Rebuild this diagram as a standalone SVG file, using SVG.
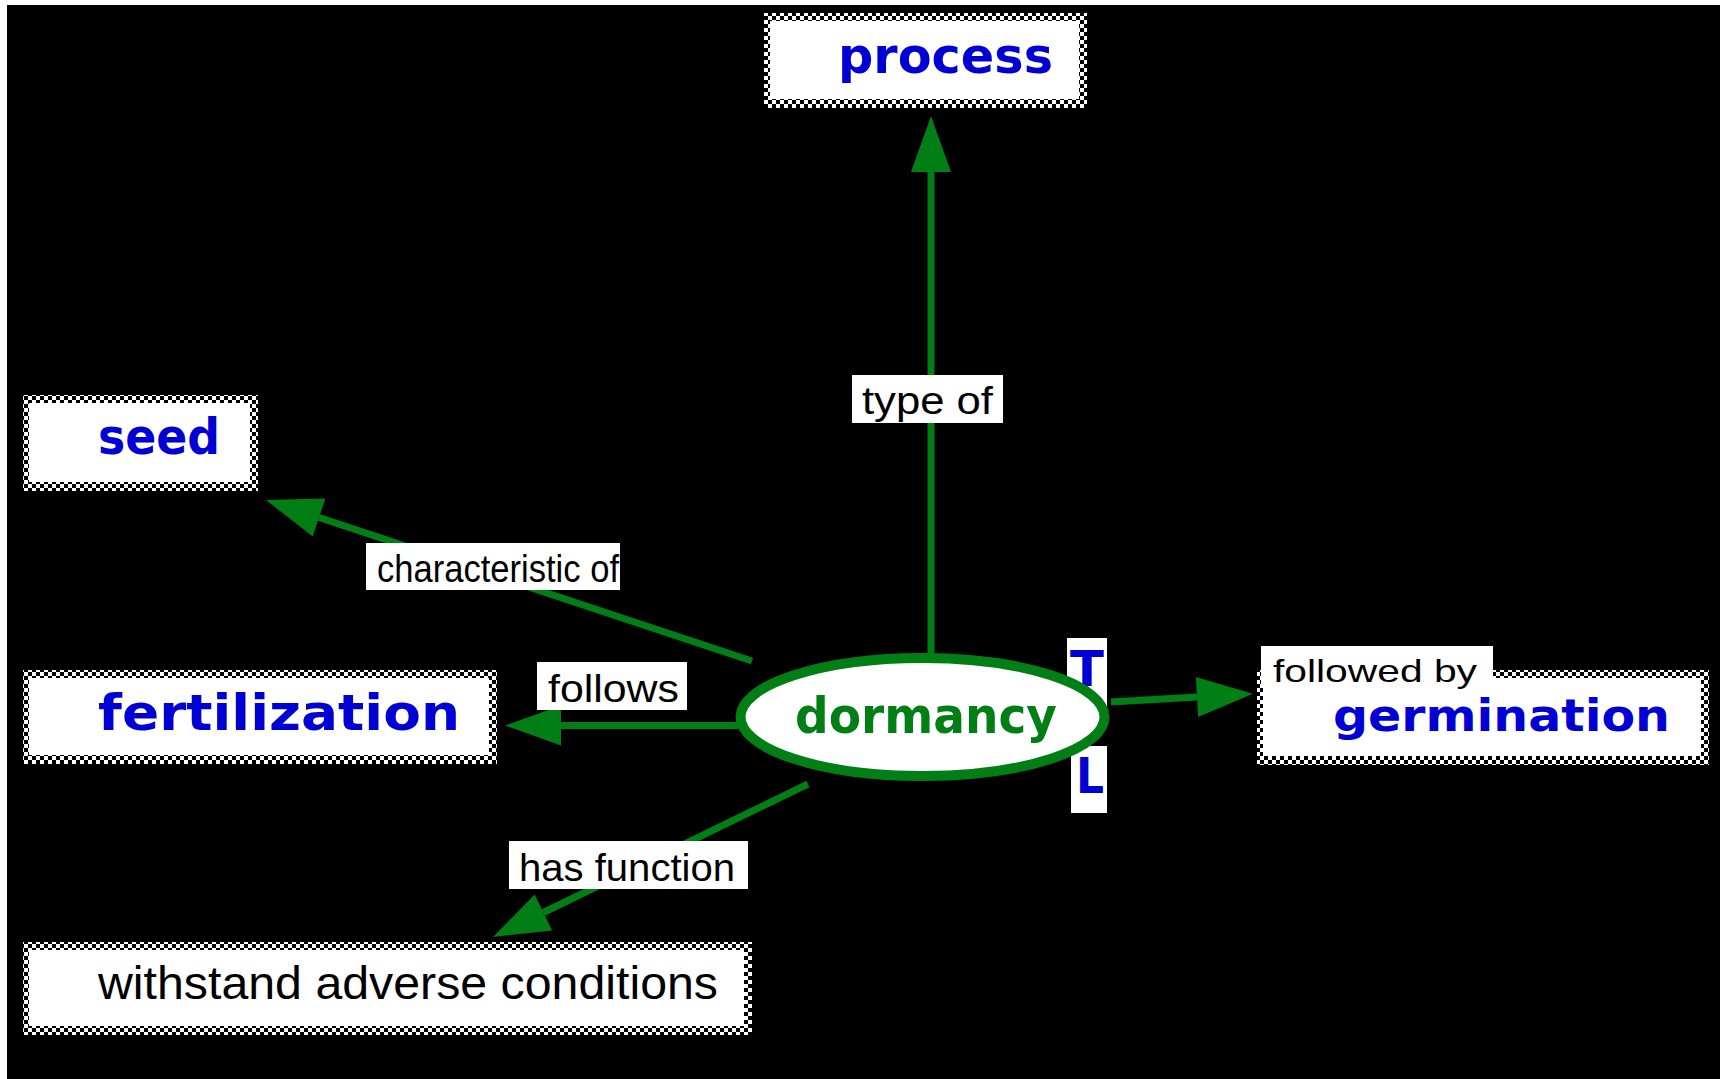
<svg xmlns="http://www.w3.org/2000/svg" width="1725" height="1079" viewBox="0 0 1725 1079">
<style>
.cn{font-family:"DejaVu Sans","Liberation Sans",sans-serif;font-weight:bold;font-size:50px;fill:#0000d4}
.lb{font-family:"Liberation Sans","DejaVu Sans",sans-serif;font-size:38px;fill:#000}
.lbox{fill:#fff}
.ln{stroke:#027f14;stroke-width:7;fill:none}
.inner{fill:#fff}
</style>
<defs>
<pattern id="chk" x="0" y="0" width="8" height="8" patternUnits="userSpaceOnUse">
<rect width="8" height="8" fill="#000"/>
<rect x="0" y="0" width="4" height="4" fill="#fff"/>
<rect x="4" y="4" width="4" height="4" fill="#fff"/>
</pattern>
<marker id="ah" markerUnits="userSpaceOnUse" markerWidth="58" markerHeight="42" refX="0" refY="21" orient="auto" overflow="visible">
<path d="M0,1 L56,21 L0,41 z" fill="#027f14"/>
</marker>
</defs>
<rect x="0" y="0" width="1725" height="1079" fill="#fff"/>
<rect x="7" y="5" width="1713" height="1074" fill="#000"/>

<g id="process">
<rect x="764" y="13" width="323" height="95" fill="url(#chk)"/>
<rect class="inner" x="770" y="21" width="309" height="78"/>
<text class="cn" x="838" y="73" textLength="215" lengthAdjust="spacingAndGlyphs">process</text>
</g>
<g id="seed">
<rect x="23" y="395" width="235" height="96" fill="url(#chk)"/>
<rect class="inner" x="29" y="403" width="221" height="79"/>
<text class="cn" x="98" y="454" textLength="122" lengthAdjust="spacingAndGlyphs">seed</text>
</g>
<g id="fertilization">
<rect x="23" y="670" width="474" height="94" fill="url(#chk)"/>
<rect class="inner" x="29" y="678" width="460" height="77"/>
<text class="cn" x="98" y="730" textLength="362" lengthAdjust="spacingAndGlyphs">fertilization</text>
</g>
<g id="germination">
<rect x="1257" y="670" width="452" height="95" fill="url(#chk)"/>
<rect class="inner" x="1263" y="678" width="438" height="78"/>
<text class="cn" x="1333" y="731" style="font-size:45px" textLength="337" lengthAdjust="spacingAndGlyphs">germination</text>
</g>
<g id="withstand">
<rect x="23" y="942" width="729" height="93" fill="url(#chk)"/>
<rect class="inner" x="29" y="950" width="715" height="76"/>
<text x="98" y="999" font-family="Liberation Sans, DejaVu Sans, sans-serif" font-size="46" fill="#000" textLength="620" lengthAdjust="spacingAndGlyphs">withstand adverse conditions</text>
</g>
<g id="dormancy">
<rect x="1067" y="638" width="40" height="70" fill="#fff"/>
<rect x="1071" y="746" width="36" height="67" fill="#fff"/>
<text x="1070" y="686" font-family="DejaVu Sans, Liberation Sans, sans-serif" font-weight="bold" font-size="50" fill="#0000d4" textLength="34" lengthAdjust="spacingAndGlyphs">T</text>
<text x="1076" y="793" font-family="DejaVu Sans, Liberation Sans, sans-serif" font-weight="bold" font-size="50" fill="#0000d4" textLength="28" lengthAdjust="spacingAndGlyphs">L</text>
<ellipse cx="922.5" cy="717" rx="182" ry="59" fill="#fff" stroke="#027f14" stroke-width="10"/>
<text class="cn" x="795" y="733" style="fill:#027f14" textLength="262" lengthAdjust="spacingAndGlyphs">dormancy</text>
</g>

<g id="connectors">
<path class="ln" d="M931,655 L931,172" marker-end="url(#ah)"/>
<path class="ln" d="M752,661 L319,517.5" marker-end="url(#ah)"/>
<path class="ln" d="M738,725.5 L561,725.5" marker-end="url(#ah)"/>
<path class="ln" d="M808,784 L543.4,912.5" marker-end="url(#ah)"/>
<path class="ln" d="M1111,702 L1197,697" marker-end="url(#ah)"/>
<rect class="lbox" x="852" y="375" width="151" height="48"/>
<text class="lb" x="862" y="414" textLength="131" lengthAdjust="spacingAndGlyphs">type of</text>
<rect class="lbox" x="366" y="543" width="254" height="47"/>
<text class="lb" x="377" y="582" textLength="242" lengthAdjust="spacingAndGlyphs">characteristic of</text>
<rect class="lbox" x="537" y="662" width="150" height="48"/>
<text class="lb" x="548" y="702" textLength="131" lengthAdjust="spacingAndGlyphs">follows</text>
<rect class="lbox" x="1261" y="646" width="232" height="40"/>
<text class="lb" x="1273" y="682" style="font-size:32px" textLength="204" lengthAdjust="spacingAndGlyphs">followed by</text>
<rect class="lbox" x="509" y="841" width="239" height="48"/>
<text class="lb" x="519" y="881" textLength="216" lengthAdjust="spacingAndGlyphs">has function</text>
</g>
</svg>
